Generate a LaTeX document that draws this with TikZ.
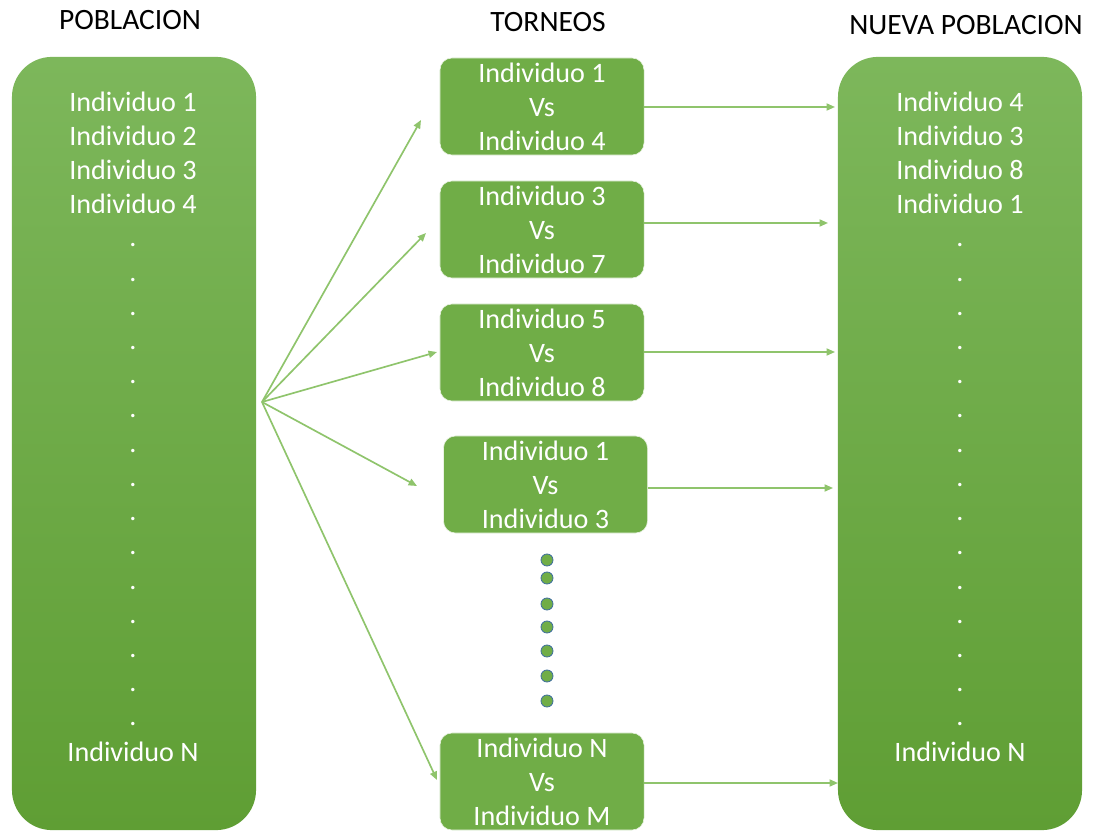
\documentclass[tikz,border=0pt]{standalone}
\usepackage{fontspec}
\setmainfont{Carlito}
\usetikzlibrary{arrows.meta}
\definecolor{boxgreen}{HTML}{70AD47}
\definecolor{popTop}{HTML}{7DB75B}
\definecolor{popBot}{HTML}{5F9E34}
\definecolor{lineGreen}{HTML}{8FC46C}
\definecolor{dotBlue}{HTML}{41719C}

\begin{document}
\begin{tikzpicture}[x = 0.025cm, y = -0.025cm,
	pop/.style = {rounded corners = 1cm, top color = popTop, bottom color = popBot, minimum width = 6.1cm, minimum height = 19.325cm, inner sep = 0},
	match/.style = {rounded corners = 0.3cm, fill = boxgreen, draw = white!85!boxgreen, minimum width = 5.1cm, minimum height = 2.425cm, inner sep = 0, text = white, align = center, font = \fontsize{20}{24.2}\selectfont},
	item/.style = {text = white, font = \fontsize{20}{24}\selectfont},
	title/.style = {font = \fontsize{21}{25}\selectfont},
	ball/.style = {circle, fill = boxgreen, draw = dotBlue, line width = 0.6pt, minimum size = 0.3cm, inner sep = 0},
	link/.style = {lineGreen, line width = 1.2pt, -{Triangle[length = 6pt, width = 5pt]}}]
	\useasboundingbox (0,0) rectangle (1097,832);

	% titulos
	\node[title] (tPob) at (130,20) {POBLACION};
	\node[title] (tTor) at (548,22) {TORNEOS};
	\node[title] (tNue) at (966,25) {NUEVA POBLACION};

	% poblaciones
	\node[pop] (pob) at (134,443.5) {};
	\node[pop] (nue) at (960,443.5) {};
	\foreach \t [count = \i] in {1,2,3,4}
		\node[item] (p\i) at (133,68+34*\i) {Individuo \t};
	\foreach \t [count = \i] in {4,3,8,1}
		\node[item] (q\i) at (960,68+34*\i) {Individuo \t};
	\foreach \k in {0,...,14} {
		\node[item, anchor = base] at (133,247+34.2*\k) {.};
		\node[item, anchor = base] at (960,247+34.2*\k) {.};
	}
	\node[item] (pN) at (133,752) {Individuo N};
	\node[item] (qN) at (960,752) {Individuo N};

	% torneos
	\node[match] (t1) at (542,106.5) {Individuo 1\\Vs\\Individuo 4};
	\node[match] (t2) at (542,229.5) {Individuo 3\\Vs\\Individuo 7};
	\node[match] (t3) at (542,352.5) {Individuo 5\\Vs\\Individuo 8};
	\node[match] (t4) at (545.5,484.5) {Individuo 1\\Vs\\Individuo 3};
	\node[match] (t5) at (542,781.5) {Individuo N\\Vs\\Individuo M};
	\foreach \y [count = \i] in {560,578,604,627,651,676,701}
		\node[ball] (d\i) at (547,\y) {};

	% flechas
	\coordinate (src) at (262,402);
	\coordinate (f1) at (421,120);
	\coordinate (f2) at (426,233);
	\coordinate (f3) at (437,352);
	\coordinate (f4) at (417,486);
	\coordinate (f5) at (437,780);
	\coordinate (r1) at (835,107);
	\coordinate (r2) at (828,223);
	\coordinate (r3) at (835,352);
	\coordinate (r4) at (833,488);
	\coordinate (r5) at (838,783);
	\foreach \i in {1,...,5} {
		\draw[link] (src) -- (f\i);
		\draw[link] (t\i.east |- r\i) -- (r\i);
	}
\end{tikzpicture}
\end{document}
